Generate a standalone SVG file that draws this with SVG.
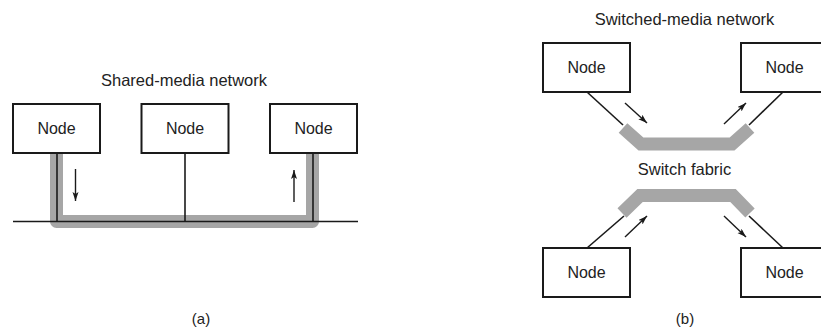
<svg xmlns="http://www.w3.org/2000/svg" width="821" height="329" viewBox="0 0 821 329">
<style>
.box{fill:#fff;stroke:#1a1a1a;stroke-width:2}
.lbl{font-family:"Liberation Sans",Arial,sans-serif;font-size:16px;fill:#222;text-anchor:middle}
.ttl{font-family:"Liberation Sans",Arial,sans-serif;font-size:16.5px;fill:#222;text-anchor:middle}
.wire{stroke:#1a1a1a;stroke-width:1.6;fill:none}
.band{stroke:#a6a6a6;stroke-width:13;fill:none}
.arr{stroke:#1a1a1a;stroke-width:1.4;fill:none;marker-end:url(#ah)}
</style>
<defs>
<marker id="ah" markerUnits="userSpaceOnUse" markerWidth="10" markerHeight="8" refX="9" refY="3" orient="auto">
<path d="M0,0 L9,3 L0,6 L2,3 Z" fill="#1a1a1a"/>
</marker>
</defs>
<g id="connectors">
<path class="band" d="M56.5,150 V221.5 H312.5 V150" stroke-linejoin="round"/>
<line class="wire" x1="13" y1="221.5" x2="358" y2="221.5"/>
<line class="wire" x1="57" y1="153" x2="57" y2="221.5"/>
<line class="wire" x1="185" y1="153" x2="185" y2="221.5"/>
<line class="wire" x1="313" y1="153" x2="313" y2="221.5"/>
<line class="arr" x1="75.5" y1="169" x2="75.5" y2="201"/>
<line class="arr" x1="294" y1="202" x2="294" y2="170"/>
<path class="band" d="M623,128 L641,144 H732 L750,128" stroke-linejoin="miter" stroke-width="12.5"/>
<path class="band" d="M622,213 L640,195.5 H733 L750,213" stroke-linejoin="miter" stroke-width="12.5"/>
<line class="wire" x1="587" y1="92" x2="623" y2="125"/>
<line class="wire" x1="783" y1="92" x2="749" y2="125"/>
<line class="wire" x1="587" y1="248" x2="624" y2="216"/>
<line class="wire" x1="783" y1="248" x2="749" y2="216"/>
<line class="arr" x1="625" y1="103" x2="647" y2="123"/>
<line class="arr" x1="724" y1="124" x2="746" y2="103"/>
<line class="arr" x1="625" y1="237" x2="647" y2="216"/>
<line class="arr" x1="724" y1="216" x2="746" y2="237"/>
</g>
<text class="ttl" x="184" y="86">Shared-media network</text>
<g id="a-node1"><rect class="box" x="13" y="104" width="87" height="49"/><text class="lbl" x="56.5" y="134">Node</text></g>
<g id="a-node2"><rect class="box" x="141.5" y="104" width="87" height="49"/><text class="lbl" x="185" y="134">Node</text></g>
<g id="a-node3"><rect class="box" x="270" y="104" width="87" height="49"/><text class="lbl" x="313.5" y="134">Node</text></g>
<text class="ttl" x="201" y="324" style="font-size:15px">(a)</text>
<text class="ttl" x="684.5" y="25">Switched-media network</text>
<text class="ttl" x="684.5" y="175">Switch fabric</text>
<g id="b-node1"><rect class="box" x="543" y="43" width="87" height="49"/><text class="lbl" x="586.5" y="73">Node</text></g>
<g id="b-node2"><rect class="box" x="741" y="43" width="87" height="49"/><text class="lbl" x="784.5" y="73">Node</text></g>
<g id="b-node3"><rect class="box" x="543" y="248" width="87" height="49"/><text class="lbl" x="586.5" y="278">Node</text></g>
<g id="b-node4"><rect class="box" x="741" y="248" width="87" height="49"/><text class="lbl" x="784.5" y="278">Node</text></g>
<text class="ttl" x="685" y="324" style="font-size:15px">(b)</text>
</svg>
